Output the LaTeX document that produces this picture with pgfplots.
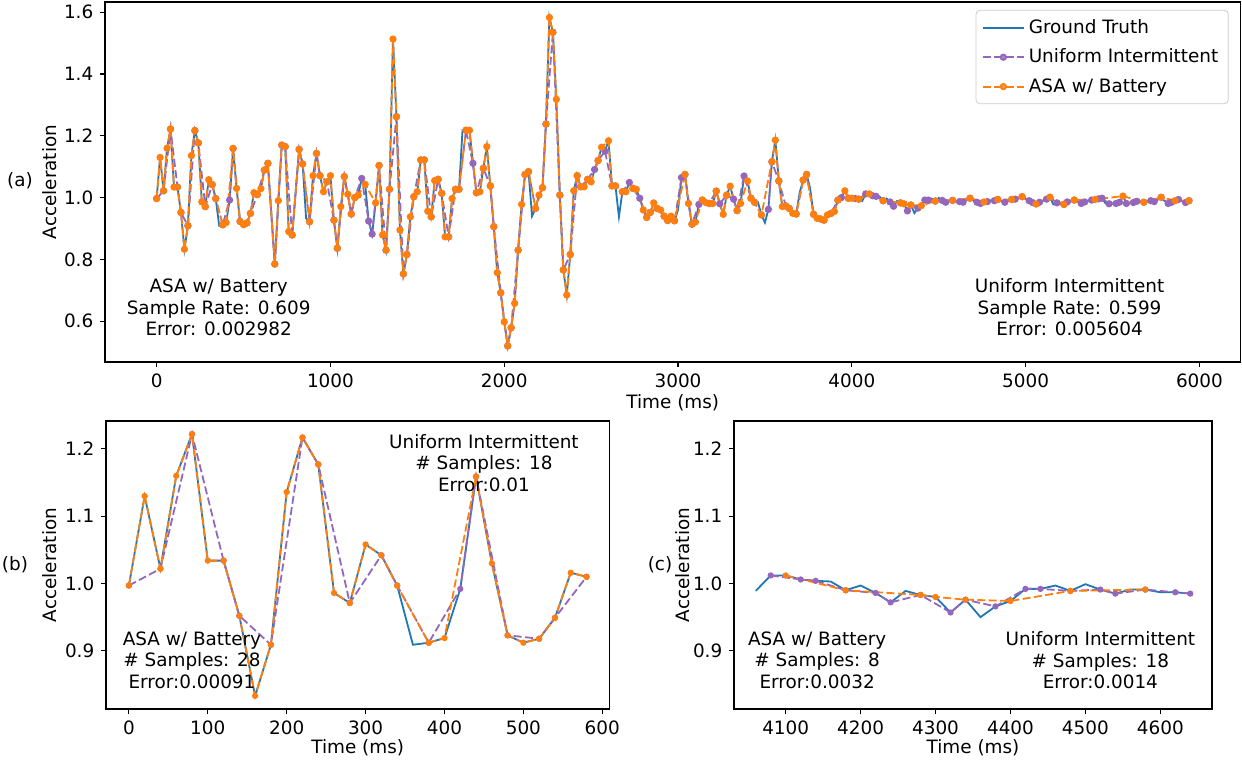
\documentclass[border=0pt]{standalone}
\usepackage{pgfplots}
\pgfplotsset{compat=1.18}
\usepackage{pgfplotstable}
\usepackage{fontspec}
\setmainfont{DejaVu Sans}

\definecolor{tabblue}{HTML}{1F77B4}
\definecolor{taborange}{HTML}{FF7F0E}
\definecolor{tabpurple}{HTML}{9467BD}

% ground truth, one reading every 20 ms
\pgfplotstableread{
t v
0 0.997
20 1.130
40 1.022
60 1.160
80 1.222
100 1.034
120 1.034
140 0.952
160 0.833
180 0.909
200 1.136
220 1.217
240 1.177
260 0.986
280 0.971
300 1.058
320 1.042
340 0.997
360 0.909
380 0.912
400 0.919
420 0.992
440 1.159
460 1.030
480 0.923
500 0.912
520 0.918
540 0.949
560 1.016
580 1.010
600 1.029
620 1.089
640 1.111
660 0.948
680 0.785
700 0.990
720 1.170
740 1.165
760 0.890
780 0.879
800 1.018
820 1.156
840 1.109
860 0.933
880 0.922
900 1.071
920 1.143
940 1.071
960 1.019
980 1.051
1000 1.071
1020 0.927
1040 0.836
1060 0.971
1080 1.068
1100 1.011
1120 0.947
1140 1.000
1160 1.008
1180 1.062
1200 1.043
1220 0.924
1240 0.882
1260 0.983
1280 1.104
1300 0.879
1320 0.830
1340 1.027
1360 1.513
1380 1.262
1400 0.895
1420 0.753
1440 0.816
1460 0.938
1480 1.003
1500 1.019
1520 1.122
1540 1.122
1560 0.956
1580 0.938
1600 1.055
1620 1.059
1640 1.014
1660 0.873
1680 0.873
1700 0.997
1720 1.027
1740 1.027
1760 1.218
1780 1.218
1800 1.218
1820 1.111
1840 1.016
1860 1.019
1880 1.095
1900 1.165
1920 1.038
1940 0.906
1960 0.757
1980 0.692
2000 0.598
2020 0.520
2040 0.579
2060 0.658
2080 0.830
2100 0.978
2120 1.075
2140 1.084
2160 0.940
2180 0.965
2200 1.008
2220 1.032
2240 1.238
2260 1.583
2280 1.535
2300 1.318
2320 1.008
2340 0.766
2360 0.685
2380 0.816
2400 1.022
2420 1.071
2440 1.035
2460 1.035
2480 1.059
2500 1.051
2520 1.091
2540 1.120
2560 1.163
2580 1.150
2600 1.184
2620 1.038
2640 1.038
2660 0.938
2680 1.019
2700 1.019
2720 1.049
2740 1.030
2760 1.027
2780 0.998
2800 0.960
2820 0.936
2840 0.952
2860 0.983
2880 0.965
2900 0.960
2920 0.940
2940 0.926
2960 0.940
2980 0.925
3000 0.960
3020 1.065
3040 1.075
3060 0.981
3080 0.914
3100 0.921
3120 0.978
3140 0.992
3160 0.984
3180 0.981
3200 0.981
3220 1.021
3240 0.980
3260 0.946
3280 1.008
3300 1.037
3320 0.995
3340 0.958
3360 0.981
3380 1.070
3400 1.054
3420 0.998
3440 0.985
3460 0.985
3480 0.944
3500 0.919
3520 0.962
3540 1.116
3560 1.186
3580 1.054
3600 0.971
3620 0.973
3640 0.965
3660 0.949
3680 0.947
3700 1.016
3720 1.057
3740 1.075
3760 1.030
3780 0.946
3800 0.933
3820 0.931
3840 0.927
3860 0.944
3880 0.949
3900 0.955
3920 0.992
3940 1.000
3960 1.022
3980 0.998
4000 0.998
4020 0.997
4040 0.995
4060 0.989
4080 1.012
4100 1.012
4120 1.006
4140 1.004
4160 1.003
4180 0.990
4200 0.997
4220 0.986
4240 0.972
4260 0.989
4280 0.983
4300 0.980
4320 0.957
4340 0.976
4360 0.950
4380 0.966
4400 0.974
4420 0.992
4440 0.992
4460 0.997
4480 0.989
4500 0.999
4520 0.991
4540 0.985
4560 0.991
4580 0.991
4600 0.987
4620 0.987
4640 0.985
4660 0.992
4680 0.998
4700 0.990
4720 0.985
4740 0.981
4760 0.986
4780 0.987
4800 0.991
4820 0.990
4840 0.994
4860 0.989
4880 0.985
4900 0.990
4920 0.994
4940 0.995
4960 0.999
4980 1.003
5000 0.996
5020 0.990
5040 0.984
5060 0.979
5080 0.985
5100 0.990
5120 0.995
5140 1.001
5160 0.978
5180 0.983
5200 0.982
5220 0.978
5240 0.986
5260 0.990
5280 0.992
5300 0.987
5320 0.981
5340 0.986
5360 0.990
5380 0.992
5400 0.994
5420 0.996
5440 0.998
5460 0.981
5480 0.980
5500 0.981
5520 0.981
5540 0.985
5560 1.005
5580 0.981
5600 0.983
5620 0.984
5640 0.988
5660 0.986
5680 0.985
5700 0.988
5720 0.990
5740 0.987
5760 0.993
5780 1.001
5800 0.989
5820 0.981
5840 0.985
5860 0.990
5880 0.994
5900 0.989
5920 0.984
5940 0.990
}\gttab

% samples taken by ASA w/ Battery
\pgfplotstableread{
t v
0 0.997
20 1.130
40 1.022
60 1.160
80 1.222
100 1.034
120 1.034
140 0.952
160 0.833
180 0.909
200 1.136
220 1.217
240 1.177
260 0.986
280 0.971
300 1.058
320 1.042
340 0.997
380 0.912
400 0.919
440 1.159
460 1.030
480 0.923
500 0.912
520 0.918
540 0.949
560 1.016
580 1.010
600 1.029
620 1.089
640 1.111
680 0.785
700 0.990
720 1.170
740 1.165
760 0.890
780 0.879
820 1.156
840 1.109
880 0.922
900 1.071
920 1.143
940 1.071
960 1.019
980 1.051
1000 1.071
1020 0.927
1040 0.836
1060 0.971
1080 1.068
1100 1.011
1120 0.947
1140 1.000
1160 1.008
1200 1.043
1260 0.983
1280 1.104
1300 0.879
1320 0.830
1340 1.027
1360 1.513
1380 1.262
1400 0.895
1420 0.753
1440 0.816
1460 0.938
1480 1.003
1500 1.019
1520 1.122
1540 1.122
1560 0.956
1580 0.938
1600 1.055
1620 1.059
1640 1.014
1660 0.873
1680 0.873
1700 0.997
1720 1.027
1740 1.027
1780 1.218
1800 1.218
1840 1.016
1860 1.019
1880 1.095
1900 1.165
1920 1.038
1940 0.906
1960 0.757
1980 0.692
2000 0.598
2020 0.520
2040 0.579
2060 0.658
2080 0.830
2100 0.978
2120 1.075
2140 1.084
2180 0.965
2200 1.008
2220 1.032
2240 1.238
2260 1.583
2280 1.535
2300 1.318
2320 1.008
2340 0.766
2360 0.685
2380 0.816
2400 1.022
2420 1.071
2440 1.035
2460 1.035
2480 1.059
2500 1.051
2540 1.120
2560 1.163
2600 1.184
2620 1.038
2640 1.038
2680 1.019
2700 1.019
2740 1.030
2760 1.027
2800 0.960
2820 0.936
2840 0.952
2860 0.983
2880 0.965
2900 0.960
2920 0.940
2940 0.926
2960 0.940
2980 0.925
3040 1.075
3060 0.981
3080 0.914
3100 0.921
3140 0.992
3160 0.984
3180 0.981
3200 0.981
3220 1.021
3260 0.946
3280 1.008
3300 1.037
3340 0.958
3360 0.981
3400 1.054
3420 0.998
3440 0.985
3480 0.944
3540 1.116
3560 1.186
3580 1.054
3600 0.971
3620 0.973
3640 0.965
3660 0.949
3680 0.947
3720 1.057
3740 1.075
3780 0.946
3800 0.933
3820 0.931
3840 0.927
3860 0.944
3880 0.949
3900 0.955
3920 0.992
3960 1.022
3980 0.998
4000 0.998
4040 0.995
4100 1.012
4180 0.990
4280 0.983
4300 0.980
4340 0.976
4400 0.974
4480 0.989
4580 0.991
4680 0.998
4760 0.986
4840 0.994
4920 0.994
4980 1.003
5060 0.979
5140 1.001
5220 0.978
5280 0.992
5400 0.994
5560 1.005
5680 0.985
5780 1.001
5860 0.990
5940 0.990
}\asatab

% samples taken by Uniform Intermittent
\pgfplotstableread{
t v
0 0.997
40 1.022
80 1.222
120 1.034
140 0.952
180 0.909
220 1.217
240 1.177
280 0.971
320 1.042
340 0.997
380 0.912
420 0.992
440 1.159
480 0.923
520 0.918
540 0.949
580 1.010
620 1.089
640 1.111
680 0.785
720 1.170
740 1.165
780 0.879
820 1.156
840 1.109
880 0.922
920 1.143
940 1.071
980 1.051
1020 0.927
1040 0.836
1080 1.068
1120 0.947
1140 1.000
1180 1.062
1220 0.924
1240 0.882
1280 1.104
1320 0.830
1340 1.027
1380 1.262
1420 0.753
1440 0.816
1480 1.003
1520 1.122
1540 1.122
1580 0.938
1620 1.059
1640 1.014
1680 0.873
1720 1.027
1740 1.027
1780 1.218
1820 1.111
1840 1.016
1880 1.095
1920 1.038
1940 0.906
1980 0.692
2020 0.520
2040 0.579
2080 0.830
2120 1.075
2140 1.084
2180 0.965
2220 1.032
2240 1.238
2280 1.535
2320 1.008
2340 0.766
2380 0.816
2420 1.071
2440 1.035
2480 1.059
2520 1.091
2540 1.120
2580 1.150
2620 1.038
2640 1.038
2680 1.019
2720 1.049
2740 1.030
2780 0.998
2820 0.936
2840 0.952
2880 0.965
2920 0.940
2940 0.926
2980 0.925
3020 1.065
3040 1.075
3080 0.914
3120 0.978
3140 0.992
3180 0.981
3220 1.021
3240 0.980
3280 1.008
3320 0.995
3340 0.958
3380 1.070
3420 0.998
3440 0.985
3480 0.944
3520 0.962
3540 1.116
3580 1.054
3620 0.973
3640 0.965
3680 0.947
3720 1.057
3740 1.075
3780 0.946
3820 0.931
3840 0.927
3880 0.949
3920 0.992
3940 1.000
3980 0.998
4020 0.997
4040 0.995
4080 1.012
4120 1.006
4140 1.004
4180 0.990
4220 0.986
4240 0.972
4280 0.983
4320 0.957
4340 0.976
4380 0.966
4420 0.992
4440 0.992
4480 0.989
4520 0.991
4540 0.985
4580 0.991
4620 0.987
4640 0.985
4680 0.998
4720 0.985
4740 0.981
4780 0.987
4820 0.990
4840 0.994
4880 0.985
4920 0.994
4940 0.995
4980 1.003
5020 0.990
5040 0.984
5080 0.985
5120 0.995
5140 1.001
5180 0.983
5220 0.978
5240 0.986
5280 0.992
5320 0.981
5340 0.986
5380 0.992
5420 0.996
5440 0.998
5480 0.980
5520 0.981
5540 0.985
5580 0.981
5620 0.984
5640 0.988
5680 0.985
5720 0.990
5740 0.987
5780 1.001
5820 0.981
5840 0.985
5880 0.994
5920 0.984
5940 0.990
}\unitab

\pgfplotsset{
  myaxis/.style={
    scale only axis, anchor=north west,
    axis line style={line width=0.55pt},
    tick align=outside, major tick length=2.6pt,
    tick style={line width=0.55pt, black},
    xtick pos=left, ytick pos=left,
    tick label style={font=\fontsize{9.2}{11}\selectfont},
    label style={font=\fontsize{9.2}{11}\selectfont},
    /pgf/number format/assume math mode=true,
    /pgf/number format/1000 sep={},
    scaled x ticks=false,
    yticklabel style={/pgf/number format/.cd, fixed, fixed zerofill, precision=1},
    ylabel={Acceleration}, xlabel={Time (ms)},
  },
  gtline/.style={tabblue, line width=0.9pt, no marks},
  uniline/.style={tabpurple, line width=0.9pt, dash pattern=on 4pt off 1.7pt, mark=*, mark options={solid, draw=tabpurple, fill=tabpurple}},
  asaline/.style={taborange, line width=0.9pt, dash pattern=on 4pt off 1.7pt, mark=*, mark options={solid, draw=taborange, fill=taborange}},
}

\begin{document}
\fontsize{9.2}{11}\selectfont
\begin{tikzpicture}
\useasboundingbox (0,0) rectangle (621pt,-382.5pt);

\node at (10pt,-90.5pt) {(a)};
\node at (7.5pt,-282.5pt) {(b)};
\node at (330pt,-282.5pt) {(c)};

% (a) full recording
\begin{axis}[myaxis, at={(52.5pt,-1pt)}, width=567.8pt, height=180pt,
  xmin=-297, xmax=6237, ymin=0.468, ymax=1.633,
  xtick={0,1000,...,6000}, ytick={0.6,0.8,...,1.61},
  ylabel style={at={(rel axis cs:-0.0484,0.5)}, anchor=center},
  xlabel style={at={(rel axis cs:0.5,0)}, anchor=center, yshift=-20.5pt},
  legend cell align=left,
  legend style={at={(rel axis cs:0.9895,0.978)}, anchor=north east, draw=black!20, rounded corners=2pt,
    fill=white, fill opacity=0.8, text opacity=1, font=\fontsize{9.2}{11}\selectfont,
    row sep=2.4pt, inner xsep=3pt, inner ysep=2.5pt},
  legend image code/.code={\draw[mark repeat=2, mark phase=2] plot coordinates {(0cm,0cm) (0.36cm,0cm) (0.72cm,0cm)};},
]
\addplot[gtline] table[x=t, y=v]{\gttab};
\addplot[uniline, mark size=1.35pt] table[x=t, y=v]{\unitab};
\addplot[asaline, mark size=1.35pt] table[x=t, y=v]{\asatab};
\legend{Ground Truth, Uniform Intermittent, ASA w/ Battery}
\node[align=center, font=\fontsize{9.2}{10.6}\selectfont] at (axis cs:357,0.645) {ASA w/ Battery\\Sample Rate: 0.609\\Error: 0.002982};
\node[align=center, font=\fontsize{9.2}{10.6}\selectfont] at (axis cs:5253,0.645) {Uniform Intermittent\\Sample Rate: 0.599\\Error: 0.005604};
\end{axis}

% (b) first 600 ms
\begin{axis}[myaxis, at={(53pt,-210.5pt)}, width=251.7pt, height=144pt,
  xmin=-29, xmax=609, ymin=0.8135, ymax=1.2415,
  xtick={0,100,...,600}, ytick={0.9,1.0,1.1,1.2},
  ylabel style={at={(rel axis cs:-0.1112,0.5)}, anchor=center},
  xlabel style={at={(rel axis cs:0.5,0)}, anchor=center, yshift=-19.5pt},
  restrict x to domain=0:580,
]
\addplot[gtline] table[x=t, y=v]{\gttab};
\addplot[uniline, mark size=1.1pt] table[x=t, y=v]{\unitab};
\addplot[asaline, mark size=1.1pt] table[x=t, y=v]{\asatab};
\node[align=center, font=\fontsize{9.2}{10.6}\selectfont] at (axis cs:450,1.179) {Uniform Intermittent\\\# Samples: 18\\Error:0.01};
\node[align=center, font=\fontsize{9.2}{10.6}\selectfont] at (axis cs:80,0.886) {ASA w/ Battery\\\# Samples: 28\\Error:0.00091};
\end{axis}

% (c) 4060-4640 ms
\begin{axis}[myaxis, at={(367pt,-210.5pt)}, width=239pt, height=144pt,
  xmin=4031, xmax=4669, ymin=0.8135, ymax=1.2415,
  xtick={4100,4200,...,4600}, ytick={0.9,1.0,1.1,1.2},
  ylabel style={at={(rel axis cs:-0.1067,0.5)}, anchor=center},
  xlabel style={at={(rel axis cs:0.5,0)}, anchor=center, yshift=-19.5pt},
  restrict x to domain=4060:4640,
]
\addplot[gtline] table[x=t, y=v]{\gttab};
\addplot[uniline, mark size=1.1pt] table[x=t, y=v]{\unitab};
\addplot[asaline, mark size=1.1pt] table[x=t, y=v]{\asatab};
\node[align=center, font=\fontsize{9.2}{10.6}\selectfont] at (axis cs:4142,0.886) {ASA w/ Battery\\\# Samples: 8\\Error:0.0032};
\node[align=center, font=\fontsize{9.2}{10.6}\selectfont] at (axis cs:4520,0.886) {Uniform Intermittent\\\# Samples: 18\\Error:0.0014};
\end{axis}
\end{tikzpicture}
\end{document}
